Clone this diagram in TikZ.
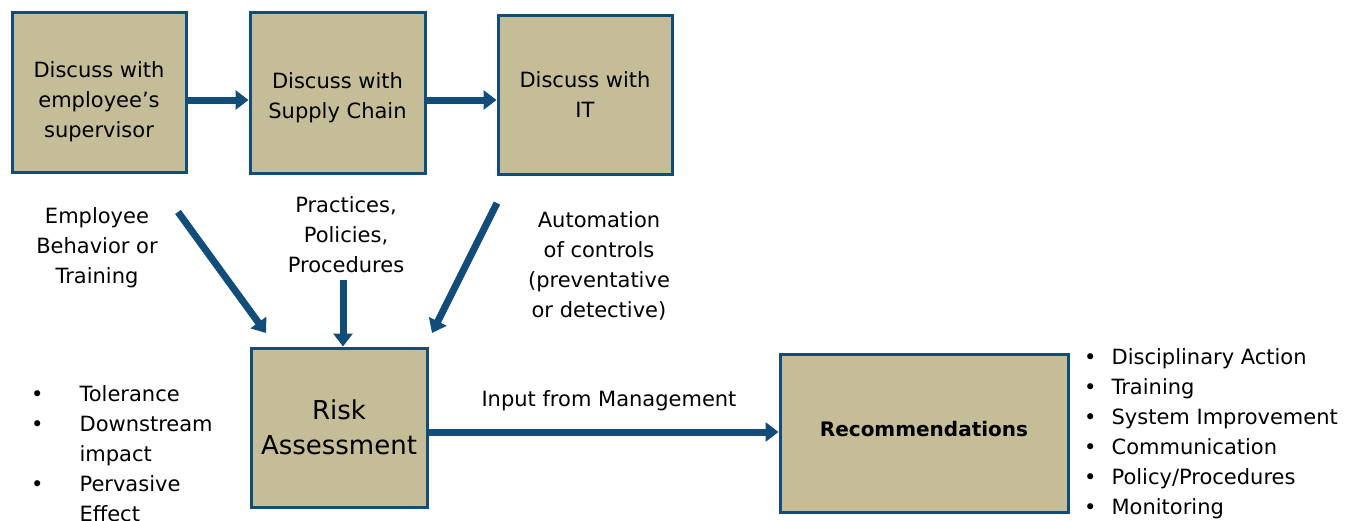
\documentclass[tikz,border=0pt]{standalone}
\usepackage{fontspec}
\setmainfont{DejaVu Sans}
\usetikzlibrary{arrows.meta,calc}
\definecolor{boxfill}{RGB}{196,189,151}
\definecolor{navy}{RGB}{18,77,122}
\newcommand\dgtext{\fontsize{21}{30}\selectfont}
\newcommand\dgbig{\fontsize{26}{35}\selectfont}
\newcommand\dgbold{\fontsize{20}{26}\selectfont\bfseries}
\begin{document}
\begin{tikzpicture}[x=1pt,y=-1pt,
  box/.style={draw=navy, line width=3pt, fill=boxfill, align=center, inner sep=0pt, font=\dgtext},
  inbox/.style={align=center, font=\dgtext, inner sep=0pt},
  flow/.style={draw=navy, line width=7pt, -{Triangle[length=13pt,width=19pt]}},
  lbl/.style={align=center, font=\dgtext, inner sep=0pt},
  lst/.style={align=left, font=\dgtext, inner sep=0pt, anchor=base west},
]
\useasboundingbox[fill=white] (0,0) rectangle (1347,520);

% process boxes, their captions set a little off centre
\node[box, minimum width=174, minimum height=160,
  label={[inbox, yshift=-10pt]center:{Discuss with\\employee’s\\supervisor}}] (sup) at (99,92) {};
\node[box, minimum width=175, minimum height=161,
  label={[inbox, yshift=-5pt]center:{Discuss with\\Supply Chain}}] (sc) at (337.5,92.5) {};
\node[box, minimum width=174, minimum height=159] (it) at (585,94.5) {Discuss with\\IT};
\node[box, minimum width=176, minimum height=159, font=\dgbig] (risk) at (339,427.5) {Risk\\Assessment};
\node[box, minimum width=288, minimum height=158,
  label={[inbox, font=\dgbold, yshift=4pt]center:Recommendations}] (rec) at (924,433) {};

% labels
\node[lbl] (lb1) at (97,248) {Employee\\Behavior or\\Training};
\node[lbl] (lb2) at (346,235) {Practices,\\Policies,\\Procedures};
\node[lbl] (lb3) at (599,266) {Automation\\of controls\\(preventative\\or detective)};
\node[lbl] (mgmt) at (609,401) {Input from Management};

% bullet lists
\node[lst] (left) at (31,401) {\begin{tabular}[t]{@{}l@{\hspace{36pt}}l@{}}
•&Tolerance\\ •&Downstream\\ &impact\\ •&Pervasive\\ &Effect\end{tabular}};
\node[lst] (right) at (1084,364) {\begin{tabular}[t]{@{}l@{\hspace{15pt}}l@{}}
•&Disciplinary Action\\ •&Training\\ •&System Improvement\\ •&Communication\\ •&Policy/Procedures\\ •&Monitoring\end{tabular}};

% connectors
\coordinate (a1s) at (178,212);
\coordinate (a1e) at (266,333);
\coordinate (a2s) at (343,280);
\coordinate (a3s) at (497,203);
\coordinate (a3e) at (432,333);

\draw[flow] (sup.east |- {(0,100)}) -- (sc.west |- {(0,100)});
\draw[flow] (sc.east |- {(0,100)}) -- (it.west |- {(0,100)});
\draw[flow] (a1s) -- (a1e);
\draw[flow] (a2s) -- (a2s |- risk.north);
\draw[flow] (a3s) -- (a3e);
\draw[flow] (risk.east |- {(0,432)}) -- (rec.west |- {(0,432)});
\end{tikzpicture}
\end{document}
